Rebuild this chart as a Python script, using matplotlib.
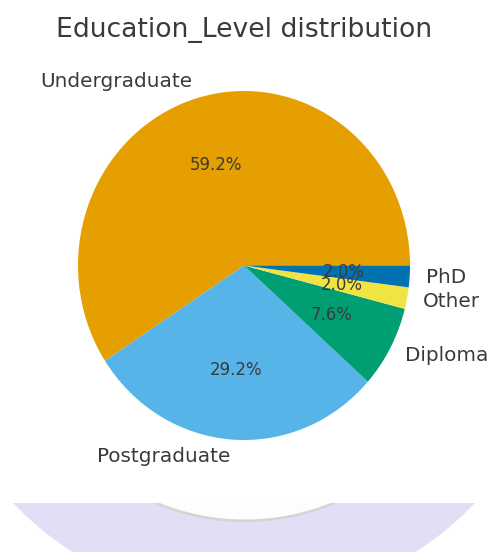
import matplotlib
matplotlib.use('Agg')
import matplotlib.pyplot as plt
from matplotlib.patches import Circle, Rectangle

W, H, DPI = 488, 552, 120

labels = ['Undergraduate', 'Postgraduate', 'Diploma', 'Other', 'PhD']
shares = [59.2, 29.2, 7.6, 2.0, 2.0]
colors = ['#E69F00', '#56B4E9', '#009E73', '#F0E442', '#0072B2']
text_color = '#3a3a3a'

fig = plt.figure(figsize=(W / DPI, H / DPI), dpi=DPI)
fig.patch.set_facecolor('white')

# background decoration, in pixel coordinates
bg = fig.add_axes([0, 0, 1, 1], zorder=-1)
bg.set_xlim(0, W)
bg.set_ylim(H, 0)
bg.axis('off')
clip = Rectangle((0, 503), W, H - 503, transform=bg.transData)
lav = Circle((244, 283), 319, facecolor='#e0dff5', edgecolor='none')
bg.add_patch(lav)
lav.set_clip_path(clip)
shadow = Circle((245, 291), 231, facecolor='#d4d4d4', edgecolor='none')
bg.add_patch(shadow)
shadow.set_clip_path(clip)
white = Circle((245, 290), 229.5, facecolor='#fdfdfb', edgecolor='none')
bg.add_patch(white)
white.set_clip_path(clip)

# pie axes spanning the pie's pixel box
left, right, top, bottom = 78, 410, 91, 440
ax = fig.add_axes([left / W, 1 - bottom / H, (right - left) / W, (bottom - top) / H])
wedges, texts, autotexts = ax.pie(shares, labels=labels, colors=colors,
                                  autopct='%1.1f%%', startangle=0,
                                  textprops={'fontsize': 12, 'color': text_color})
for t in autotexts:
    t.set_fontsize(10)
    t.set_color(text_color)
ax.set_aspect('auto')
ax.set_xlim(-1, 1)
ax.set_ylim(-1, 1)

fig.text(0.5, 1 - 37 / H, 'Education_Level distribution', ha='center',
         va='baseline', fontsize=16, color=text_color)

fig.savefig('out.png', dpi=DPI)
